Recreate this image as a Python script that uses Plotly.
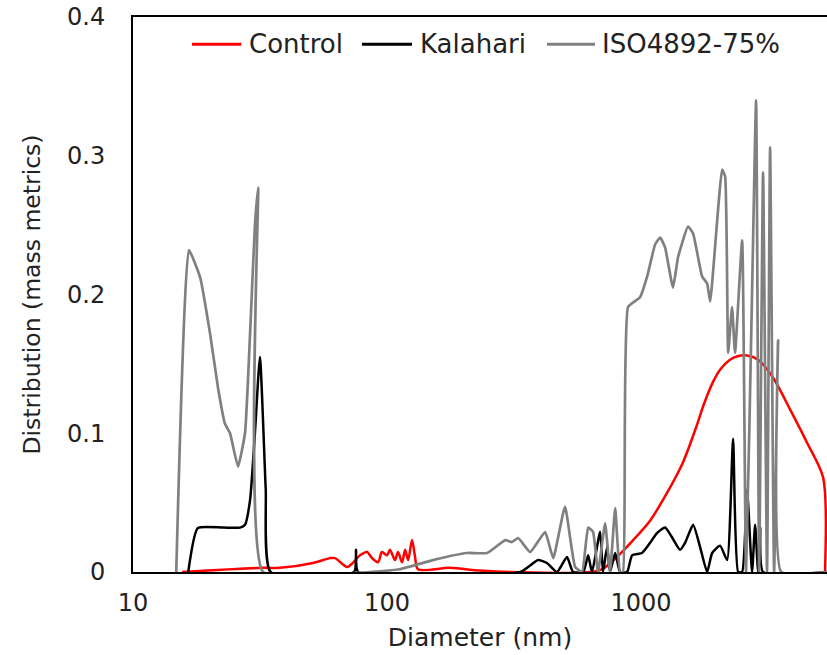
import plotly.graph_objects as go

# ---- data (diameter in nm, distribution in mass metrics) ----
control_d = [15.6, 32.5, 37.9, 51.2, 59.7, 62.4, 69.6, 72.8, 78.3, 83.4, 87.3, 92.2, 95.5, 100,
             102.7, 107.5, 110.5, 114.6, 117.8, 121.1, 125.4, 128.9, 132.4, 177, 232, 305, 690,
             805, 931, 1085, 1265, 1462, 1660, 1760, 1920, 2050, 2239, 2400, 2615, 2890, 3311,
             3863, 4508, 5210, 5297]
control_v = [0, 0.003, 0.003, 0.0065, 0.010, 0.010, 0.0036, 0.006, 0.012, 0.0144, 0.010, 0.007,
             0.0144, 0.012, 0.016, 0.0086, 0.0144, 0.007, 0.016, 0.0086, 0.023, 0.011, 0.002,
             0.003, 0.001, 0, 0.0014, 0.011, 0.023, 0.037, 0.057, 0.079, 0.106, 0.120, 0.137,
             0.146, 0.153, 0.1555, 0.156, 0.153, 0.140, 0.117, 0.093, 0.068, 0]

kalahari_d = [16.5, 18.0, 22.6, 26.4, 27.6, 28.9, 30.2, 31.6, 33.3, 34.8, 74.2, 75.5, 76.9, 334,
              393, 426, 467, 511, 540, 592, 619, 641, 690, 708, 735, 755, 791, 827, 881, 922,
              1009, 1085, 1155, 1243, 1324, 1424, 1490, 1603, 1708, 1820, 1905, 2047, 2182, 2303,
              2411, 2500, 2615, 2735, 2812, 2890, 2945, 3022, 5400]
kalahari_v = [0, 0.0317, 0.032, 0.032, 0.034, 0.052, 0.100, 0.155, 0.060, 0, 0, 0.016, 0, 0,
              0.0086, 0.0065, 0, 0.0108, 0, 0, 0.012, 0, 0.029, 0, 0.018, 0, 0.0137, 0, 0, 0.012,
              0.0137, 0.021, 0.028, 0.032, 0.025, 0.016, 0.021, 0.034, 0.018, 0, 0.0137, 0.019,
              0.0086, 0.096, 0, 0, 0.059, 0, 0.034, 0, 0.032, 0, 0]

iso_d = [14.8, 16.6, 18.4, 20.1, 21.6, 23.0, 24.1, 25.9, 27.6, 28.9, 30.2, 31.1, 32.5, 85.8,
         112, 148, 177, 207, 248, 292, 310, 328, 366, 419, 451, 502, 550, 586, 619, 647, 677,
         722, 755, 791, 827, 849, 889, 991, 1057, 1136, 1189, 1243, 1336, 1399, 1531, 1603,
         1739, 1820, 1871, 2085, 2143, 2203, 2281, 2344, 2500, 2590, 2735, 2837, 2916, 3022,
         3133, 3221, 3340, 3463, 3560, 5400]
iso_v = [0, 0.232, 0.212, 0.172, 0.133, 0.107, 0.100, 0.076, 0.100, 0.172, 0.250, 0.277, 0, 0,
         0.002, 0.008, 0.0115, 0.0137, 0.0137, 0.023, 0.0216, 0.0245, 0.0144, 0.0288, 0.010,
         0.047, 0.0036, 0, 0.032, 0.029, 0, 0.035, 0, 0.046, 0, 0, 0.191, 0.198, 0.213, 0.236,
         0.241, 0.234, 0.205, 0.227, 0.249, 0.244, 0.213, 0.208, 0.195, 0.290, 0.285, 0.158,
         0.191, 0.158, 0.239, 0, 0.201, 0.340, 0, 0.288, 0, 0.306, 0, 0.167, 0, 0]

series_names = ["Control", "Kalahari", "ISO4892-75%"]
series_colors = ["#ff0000", "#000000", "#808080"]

x_ticks = [10, 100, 1000]
x_tick_labels = ["10", "100", "1000"]
y_ticks = [0, 0.1, 0.2, 0.3, 0.4]
y_tick_labels = ["0", "0.1", "0.2", "0.3", "0.4"]

FONT = "DejaVu Sans, Verdana, sans-serif"
TXT = "#222222"

fig = go.Figure()
fig.add_trace(go.Scatter(x=control_d, y=control_v, mode="lines", name=series_names[0],
                         line=dict(color=series_colors[0], width=2.5, shape="spline", smoothing=0.8)))
fig.add_trace(go.Scatter(x=kalahari_d, y=kalahari_v, mode="lines", name=series_names[1],
                         line=dict(color=series_colors[1], width=2.5, shape="spline", smoothing=0.5)))
fig.add_trace(go.Scatter(x=iso_d, y=iso_v, mode="lines", name=series_names[2],
                         line=dict(color=series_colors[2], width=2.7, shape="spline", smoothing=0.4)))

# legend drawn as paper-positioned line samples with real text labels
legend_line_x = [(0.085, 0.156), (0.330, 0.402), (0.5965, 0.6657)]
legend_text_x = [0.164, 0.4107, 0.6729]
legend_y = 0.951
for name, col, (x0, x1), tx in zip(series_names, series_colors, legend_line_x, legend_text_x):
    fig.add_shape(type="line", xref="paper", yref="paper", x0=x0, x1=x1, y0=legend_y, y1=legend_y,
                  line=dict(color=col, width=3))
    fig.add_annotation(xref="paper", yref="paper", x=tx, y=legend_y, text=name, showarrow=False,
                       xanchor="left", yanchor="middle", font=dict(family=FONT, size=26, color=TXT))

fig.update_layout(
    width=827, height=655,
    margin=dict(l=133, r=0, t=17, b=83),
    plot_bgcolor="white", paper_bgcolor="white",
    font=dict(family=FONT, size=24, color=TXT),
    showlegend=False,
    xaxis=dict(type="log", range=[1, 3.732], tickvals=x_ticks, ticktext=x_tick_labels,
               showgrid=False, zeroline=False, showline=True, linecolor="black", linewidth=2,
               mirror=True, ticks="", ticklabelstandoff=8, automargin=False,
               tickfont=dict(size=24),
               title=dict(text="Diameter (nm)", standoff=13, font=dict(size=25))),
    yaxis=dict(range=[0, 0.4], tickvals=y_ticks, ticktext=y_tick_labels,
               showgrid=False, zeroline=False, showline=True, linecolor="black", linewidth=2,
               ticks="", ticklabelstandoff=21, automargin=False,
               tickfont=dict(size=24),
               title=dict(text="Distribution (mass metrics)", standoff=20, font=dict(size=23.5))),
)

fig.write_html("out.html", post_script="document.body.style.margin='0';",
               config={"displayModeBar": False})
